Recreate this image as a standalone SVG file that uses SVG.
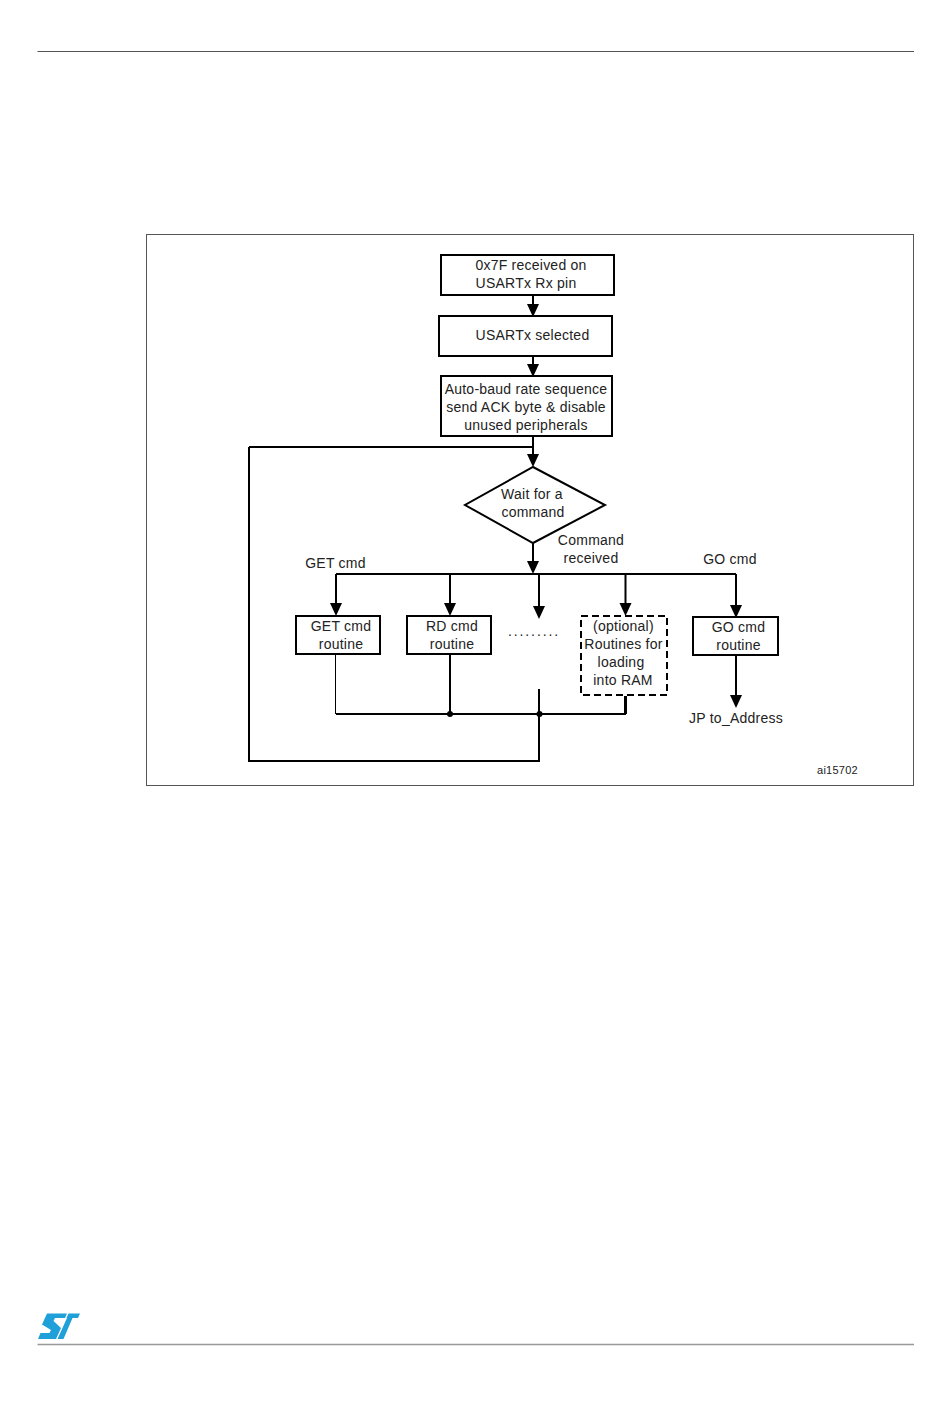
<svg xmlns="http://www.w3.org/2000/svg" width="950" height="1420" viewBox="0 0 950 1420">
<style>
text{font-family:"Liberation Sans",Arial,sans-serif;font-size:14px;fill:#222;text-anchor:middle;letter-spacing:.24px}
.b{fill:#fff;stroke:#000;stroke-width:2}
.c{fill:none;stroke:#000;stroke-width:2}
.h{fill:#000;stroke:none}
</style>
<defs><path id="ah" class="h" d="M-6,-13H6L0,0Z"/></defs>
<rect width="950" height="1420" fill="#fff"/>
<g id="page">
<path d="M37.500 51.500H914" stroke="#555" stroke-width="1" fill="none"/>
<path d="M37.500 1344.500H914" stroke="#999" stroke-width="1.400" fill="none"/>
<rect x="146.500" y="234.500" width="767" height="551" fill="#fff" stroke="#555" stroke-width="1"/>
<path id="logo" fill="#1fa0d8" d="M47 1313.500H67L65 1318H55L53.500 1321L61 1328L56 1339H38L40.500 1333H49.500L51 1330L42 1324.500ZM68.500 1313.500H80L78 1318H72.500L63.500 1339H57.500L67 1318H66.500Z"/>
</g>
<g id="connectors">
<path class="c" d="M533 296V305M533 357V366M533 437V455M249 447H533M249 447V761H539V689M533 543V562M336 574H736M336 574V605M450 574V605M539 574V607M625.500 574V605M736 574V606M450 655V714M736 656V695M336 714H626"/>
<path d="M625.500 696V714" stroke="#000" stroke-width="3" fill="none"/>
<path d="M335.500 655V714" stroke="#000" stroke-width="1" fill="none"/>
<use href="#ah" x="533" y="317"/><use href="#ah" x="533" y="377"/><use href="#ah" x="533" y="467"/><use href="#ah" x="533" y="574"/>
<use href="#ah" x="336" y="616"/><use href="#ah" x="450" y="616"/><use href="#ah" x="539" y="619"/><use href="#ah" x="625.500" y="616"/><use href="#ah" x="736" y="618"/><use href="#ah" x="736" y="708"/>
<circle cx="450" cy="714" r="3" fill="#000"/><circle cx="539.500" cy="714" r="3" fill="#000"/>
</g>
<g id="n1"><rect class="b" x="441" y="255" width="173" height="40"/><text x="531" y="270">0x7F received on</text><text x="526" y="288">USARTx Rx pin</text></g>
<g id="n2"><rect class="b" x="439" y="316" width="173" height="40"/><text x="532.500" y="340">USARTx selected</text></g>
<g id="n3"><rect class="b" x="441" y="376" width="171" height="60"/><text x="526" y="394">Auto-baud rate sequence</text><text x="526" y="412">send ACK byte &amp; disable</text><text x="526" y="430">unused peripherals</text></g>
<g id="n4"><path class="b" d="M533 467L605 505L533 543L465 505Z"/><text x="532" y="499">Wait for a</text><text x="533" y="517">command</text></g>
<g id="n5"><rect class="b" x="296" y="616" width="84" height="38"/><text x="341" y="631">GET cmd</text><text x="341" y="649">routine</text></g>
<g id="n6"><rect class="b" x="407" y="616" width="84" height="38"/><text x="452" y="631">RD cmd</text><text x="452" y="649">routine</text></g>
<g id="n7"><rect class="b" x="581" y="616" width="86" height="79" stroke-dasharray="7 4"/><text x="623.500" y="631">(optional)</text><text x="623.500" y="649">Routines for</text><text x="621" y="667">loading</text><text x="623" y="685">into RAM</text></g>
<g id="n8"><rect class="b" x="693" y="617" width="85" height="38"/><text x="738.500" y="632">GO cmd</text><text x="738.500" y="650">routine</text></g>
<g id="labels">
<text x="335.500" y="568">GET cmd</text>
<text x="591" y="545">Command</text><text x="591" y="563">received</text>
<text x="730" y="564">GO cmd</text>
<text x="736" y="723">JP to_Address</text>
<text x="534" y="635.500" style="letter-spacing:1.900px;font-size:14px">.........</text>
<text x="837.500" y="774" style="font-size:11px">ai15702</text>
</g>
</svg>
